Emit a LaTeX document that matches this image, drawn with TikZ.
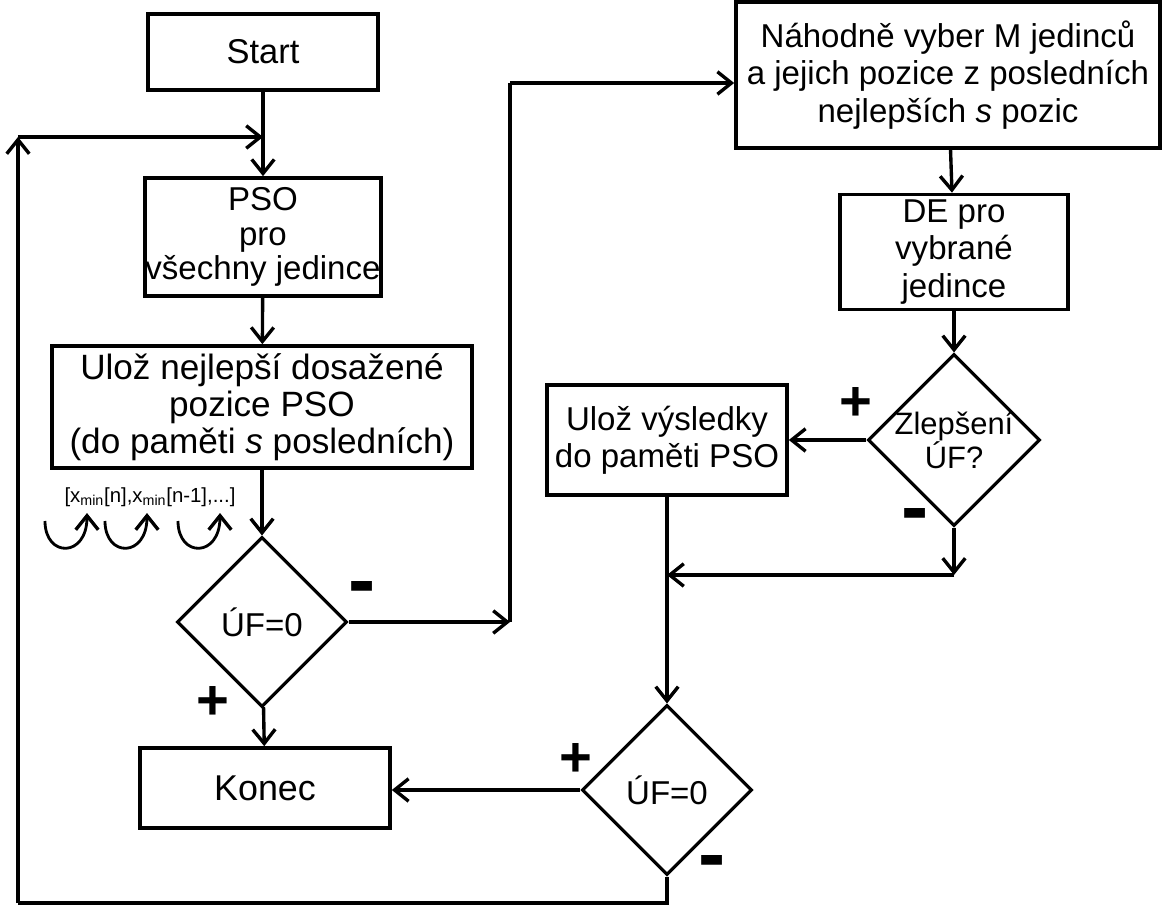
\documentclass[tikz,border=0pt]{standalone}
\usepackage{fontspec}
\setmainfont{Liberation Sans}
\usetikzlibrary{shapes.geometric,arrows.meta}

\begin{document}
\begin{tikzpicture}[x=0.025cm, y=-0.025cm,
  box/.style 2 args = {draw, line width=2.6pt, minimum width=#1*0.025cm, minimum height=#2*0.025cm, inner sep=0pt, align=center, font=\fontsize{23.5}{26.5}\selectfont},
  dia/.style = {draw, diamond, line width=2.2pt, minimum width=#1*0.025cm, minimum height=#1*0.025cm, inner sep=0pt},
  dia/.default = 170,
  txt/.style = {align=center, font=\fontsize{22}{24.5}\selectfont},
  plus/.style = {inner sep=0pt, font=\bfseries\fontsize{40}{40}\selectfont},
  minus/.style = {inner sep=0pt, font=\bfseries\fontsize{58}{58}\selectfont},
  arr/.style = {line width=2.4pt, -{Straight Barb[length=10pt, width=16pt, line width=2.4pt]}},
  ln/.style = {line width=2.4pt}]

\useasboundingbox (0,0) rectangle (1165,906);

% Left column
\node[box={230}{76}, font=\fontsize{24.5}{26.5}\selectfont] (start) at (263,52) {Start};
\node[box={236}{118}, font=\fontsize{23.5}{24.5}\selectfont] (pso) at (263,237) {PSO\\pro\\všechny jedince};
\node[box={420}{122}, font=\fontsize{25}{26.5}\selectfont] (best) at (262,407) {Ulož nejlepší dosažené\\pozice PSO\\(do paměti \textit{s} posledních)};
\node[font=\fontsize{14.5}{16}\selectfont, inner sep=0pt] (mem) at (150,497) {[x\textsubscript{min}[n],x\textsubscript{min}[n-1],...]};
\node[dia] (zero1) at (262,622) {};
\node[txt, font=\fontsize{23.5}{26}\selectfont] at (zero1) {ÚF=0};
\node[box={250}{80}, font=\fontsize{25.5}{26.5}\selectfont] (konec) at (265,788) {Konec};

% Right column
\node[box={424}{146}] (pick) at (948,75) {Náhodně vyber M jedinců\\a jejich pozice z posledních\\nejlepších \textit{s} pozic};
\node[box={228}{115}] (de) at (954,252) {DE pro\\vybrané\\jedince};
\node[dia=172] (impr) at (954,440) {};
\node[txt] at (impr) {Zlepšení\\ÚF?};
\node[box={240}{110}] (save) at (667,440) {Ulož výsledky\\do paměti PSO};
\node[dia] (zero2) at (667,790) {};
\node[txt, font=\fontsize{23.5}{26}\selectfont] at (zero2) {ÚF=0};

% Signs
\node[minus] (m1) at (362,594) {-};
\node[plus] (p1) at (213,703) {+};
\node[plus] (p2) at (856,404) {+};
\node[minus] (m2) at (915,521) {-};
\node[plus] (p3) at (576,760) {+};
\node[minus] (m3) at (712,868) {-};

% Corners
\coordinate (inS) at (263,137);
\coordinate (topL) at (18,137);
\coordinate (botL) at (18,903);
\coordinate (midR) at (510,622);
\coordinate (topR) at (510,83);
\coordinate (join) at (667,575);

% Lines
\draw[arr] (start) -- (pso);
\draw[arr] (pso) -- (best);
\draw[arr] (best) -- (zero1);
\draw[arr] (zero1) -- (konec);
\draw[arr] (zero1.east) -- (midR);
\draw[ln] (midR) -- (topR);
\draw[arr] (topR) -- (pick.west |- topR);
\draw[arr] (pick) -- (de);
\draw[arr] (de) -- (impr);
\draw[arr] (impr.west) -- (save.east |- impr.west);
\draw[arr] (impr.south) -- (impr.south |- join);
\draw[arr] (impr.south |- join) -- (join);
\draw[arr] (save) -- (zero2);
\draw[arr] (zero2.west) -- (konec.east |- zero2.west);
\draw[ln] (zero2.south) |- (botL);
\draw[arr] (botL) -- (topL);
\draw[arr] (topL) -- (inS);

% Memory shifts
\foreach \x in {45,105,178} {
  \draw[arr, line width=2pt] (\x,521) .. controls (\x,558) and (\x+42,558) .. (\x+42,513);
}

\end{tikzpicture}
\end{document}
